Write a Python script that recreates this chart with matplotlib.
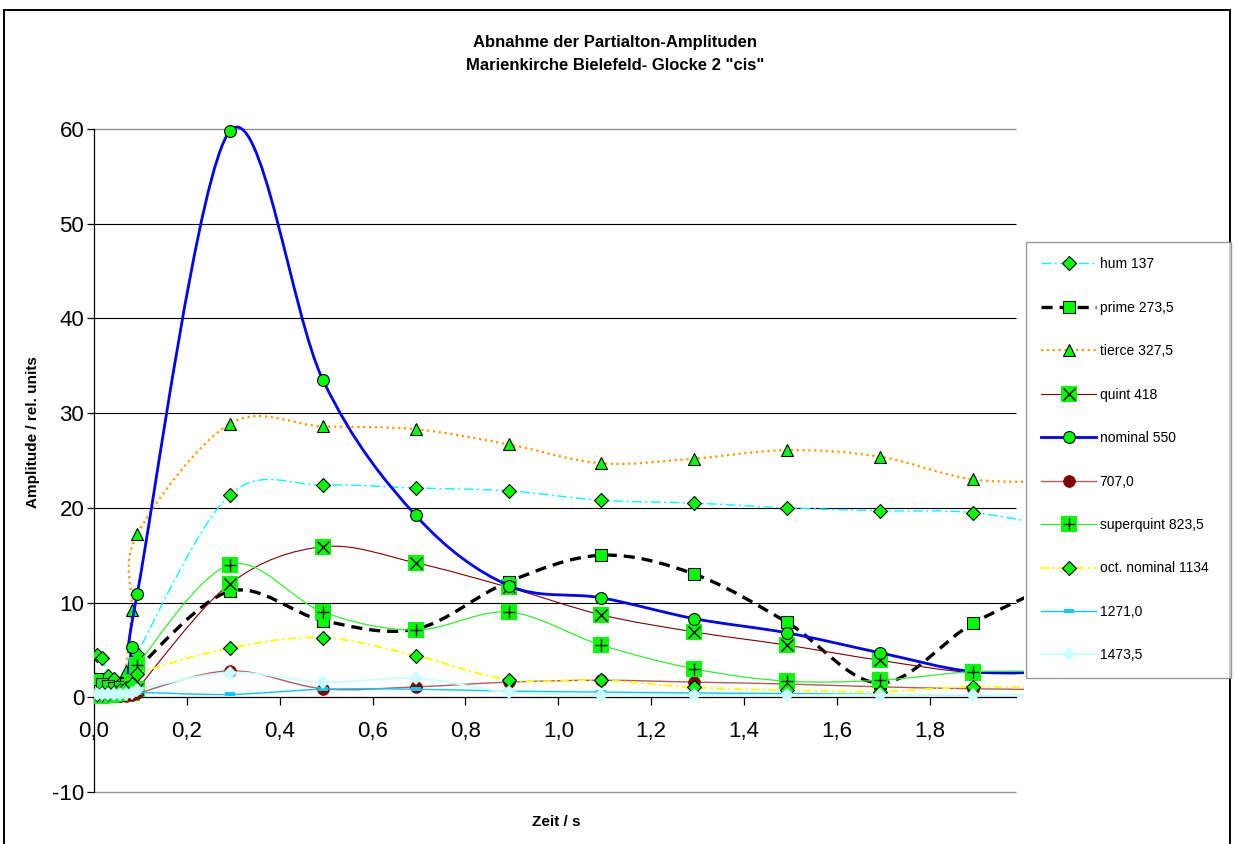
import numpy as np
import matplotlib
matplotlib.use("Agg")
import matplotlib.pyplot as plt
from matplotlib.path import Path
from matplotlib.patches import PathPatch, Rectangle
from matplotlib.lines import Line2D

plt.rcParams["font.family"] = ["Liberation Sans", "DejaVu Sans"]
plt.rcParams["lines.scale_dashes"] = False
plt.rcParams["axes.unicode_minus"] = False

# measurement times in s (last one lies just past the right edge of the plot)
t = [0.006, 0.018, 0.031, 0.043, 0.056, 0.068, 0.081, 0.093,
     0.293, 0.493, 0.693, 0.893, 1.093, 1.293, 1.493, 1.693, 1.893, 2.093]

# partial amplitudes, rel. units
hum = [4.5, 4.1, 2.3, 1.9, 1.4, 1.3, 2.0, 4.6,
       21.4, 22.4, 22.1, 21.8, 20.8, 20.5, 20.0, 19.7, 19.5, 17.8]
prime = [1.9, 1.4, 1.2, 1.0, 1.1, 1.4, 2.0, 3.0,
         11.2, 8.1, 7.2, 12.2, 15.0, 13.0, 7.9, 1.5, 7.8, 12.5]
tierce = [0.4, 0.5, 0.6, 0.8, 1.2, 2.8, 9.2, 17.2,
          28.9, 28.6, 28.3, 26.7, 24.7, 25.2, 26.1, 25.4, 23.0, 22.8]
quint = [0.1, 0.1, 0.2, 0.2, 0.3, 0.4, 0.5, 0.9,
         12.0, 15.9, 14.2, 11.6, 8.7, 6.9, 5.5, 3.9, 2.6, 2.6]
nominal = [0.2, 0.2, 0.3, 0.4, 0.6, 1.2, 5.3, 10.9,
           59.8, 33.5, 19.2, 11.8, 10.5, 8.3, 6.8, 4.7, 2.7, 2.75]
p707 = [0.1, 0.1, 0.1, 0.1, 0.1, 0.1, 0.2, 0.4,
        2.8, 0.9, 1.1, 1.6, 1.8, 1.6, 1.4, 1.1, 0.9, 0.8]
superquint = [0.1, 0.1, 0.2, 0.3, 0.5, 0.8, 1.6, 3.4,
              14.0, 9.0, 7.1, 9.0, 5.5, 3.0, 1.7, 1.8, 2.7, 2.7]
oct_nominal = [0.3, 0.4, 0.5, 0.6, 0.8, 1.0, 1.4, 2.5,
               5.2, 6.3, 4.4, 1.85, 1.8, 1.05, 0.75, 0.6, 1.1, 0.9]
p1271 = [0.0, 0.0, 0.0, 0.0, 0.1, 0.1, 0.2, 0.5,
         0.3, 0.85, 0.85, 0.65, 0.55, 0.45, 0.4, 0.3, 0.2, 0.2]
p1473 = [0.3, 0.3, 0.3, 0.3, 0.3, 0.3, 0.4, 0.8,
         2.6, 1.6, 2.0, 0.55, 0.2, 0.2, 0.25, 0.25, 0.25, 0.2]

names = ["hum 137", "prime 273,5", "tierce 327,5", "quint 418", "nominal 550",
         "707,0", "superquint 823,5", "oct. nominal 1134", "1271,0", "1473,5"]

xticks = [0.0, 0.2, 0.4, 0.6, 0.8, 1.0, 1.2, 1.4, 1.6, 1.8]
xticklabels = ["0,0", "0,2", "0,4", "0,6", "0,8", "1,0", "1,2", "1,4", "1,6", "1,8"]
yticks = [-10, 0, 10, 20, 30, 40, 50, 60]

GREEN = "#00FF00"
bar_marker = [(-1, -0.45), (1, -0.45), (1, 0.45), (-1, 0.45)]

# line + marker style per series; "overlay" is a glyph drawn on top of the marker
styles = [
    dict(color="#00FFFF", lw=1.0, ls=(0, (7, 2.5, 1.5, 2.5)),
         marker="D", ms=7, mfc=GREEN, mec="black", mew=0.8),
    dict(color="black", lw=2.4, ls=(0, (8, 5)),
         marker="s", ms=8.5, mfc=GREEN, mec="black", mew=0.8),
    dict(color="#FF9900", lw=1.6, ls=(0, (1.6, 2.6)),
         marker="^", ms=9, mfc=GREEN, mec="black", mew=0.8),
    dict(color="#800000", lw=0.8, ls="-",
         marker="s", ms=11, mfc=GREEN, mec=GREEN, mew=0, overlay="x"),
    dict(color="#0000FF", lw=2.0, ls="-",
         marker="o", ms=8.5, mfc=GREEN, mec="black", mew=0.8),
    dict(color="#B35C5C", lw=1.0, ls="-",
         marker="o", ms=8.5, mfc="#800000", mec="#800000", mew=0.5),
    dict(color="#33EE33", lw=0.9, ls="-",
         marker="s", ms=11, mfc=GREEN, mec=GREEN, mew=0, overlay="+"),
    dict(color="#FFFF00", lw=1.4, ls=(0, (6, 2.5, 1.5, 2.5)),
         marker="D", ms=7, mfc=GREEN, mec="black", mew=0.8),
    dict(color="#00CCFF", lw=1.0, ls="-",
         marker=bar_marker, ms=7, mfc="#00CCFF", mec="#00CCFF", mew=0),
    dict(color="#CCFFFF", lw=1.4, ls="-",
         marker="D", ms=7.5, mfc="#CCFFFF", mec="#CCFFFF", mew=0),
]
series = [hum, prime, tierce, quint, nominal, p707, superquint, oct_nominal, p1271, p1473]


def excel_smooth(x, y):
    """Bezier path through the points with Catmull-Rom tangents (smoothed line)."""
    pts = np.column_stack([x, y]).astype(float)
    n = len(pts)
    verts = [pts[0]]
    codes = [Path.MOVETO]
    for i in range(n - 1):
        p0 = pts[max(i - 1, 0)]
        p1, p2 = pts[i], pts[i + 1]
        p3 = pts[min(i + 2, n - 1)]
        verts += [p1 + (p2 - p0) / 6.0, p2 - (p3 - p1) / 6.0, p2]
        codes += [Path.CURVE4] * 3
    return Path(verts, codes)


fig = plt.figure(figsize=(12.37, 8.44), dpi=100)
ax = fig.add_axes([94 / 1237, 52 / 844, 930 / 1237, 663 / 844])
x_end = 2.003
grid_end = 1.985

clip = Rectangle((0, -10.5), x_end, 71.5, transform=ax.transData)

for y in yticks:
    if y == 0:
        continue
    edge = y in (yticks[0], yticks[-1])
    ax.hlines(y, 0, grid_end, colors="#909090" if edge else "black",
              lw=1.0 if edge else 0.8, zorder=1, clip_on=False)

handles = []
for k, (vals, st) in enumerate(zip(series, styles)):
    z = 3 + k
    patch = PathPatch(excel_smooth(t, vals), fill=False, edgecolor=st["color"],
                      lw=st["lw"], linestyle=st["ls"], capstyle="butt", zorder=z)
    ax.add_patch(patch)
    patch.set_clip_path(clip)
    mk, = ax.plot(t, vals, linestyle="none", marker=st["marker"], ms=st["ms"],
                  mfc=st["mfc"], mec=st["mec"], mew=st["mew"], zorder=z + 0.5)
    mk.set_clip_path(clip)
    h = Line2D([], [], color=st["color"], lw=st["lw"], linestyle=st["ls"],
               marker=st["marker"], ms=st["ms"], mfc=st["mfc"], mec=st["mec"], mew=st["mew"])
    if "overlay" in st:
        ov, = ax.plot(t, vals, linestyle="none", marker=st["overlay"], ms=st["ms"] * 0.8,
                      color="black", mew=1.0, zorder=z + 0.6)
        ov.set_clip_path(clip)
        h = (h, Line2D([], [], linestyle="none", marker=st["overlay"], ms=st["ms"] * 0.8,
                       color="black", mew=1.0))
    handles.append(h)

ax.set_xlim(0, x_end)
ax.set_ylim(-10, 60)
ax.patch.set_visible(False)

for side in ["top", "right"]:
    ax.spines[side].set_visible(False)
ax.spines["bottom"].set_position(("data", 0))
ax.spines["bottom"].set_bounds(0, grid_end)
ax.spines["bottom"].set_linewidth(0.9)
ax.spines["left"].set_linewidth(0.9)
ax.spines["bottom"].set_zorder(2)

ax.set_xticks(xticks)
ax.set_xticklabels(xticklabels)
ax.set_yticks(yticks)
ax.tick_params(axis="x", direction="out", length=6, width=0.9, labelsize=16, pad=11)
ax.tick_params(axis="y", direction="out", length=5, width=0.9, labelsize=16, pad=2)

fig.text(615 / 1237, 1 - 43 / 844, "Abnahme der Partialton-Amplituden",
         ha="center", va="center", fontsize=12, fontweight="bold")
fig.text(615 / 1237, 1 - 65 / 844, 'Marienkirche Bielefeld- Glocke 2 "cis"',
         ha="center", va="center", fontsize=12, fontweight="bold")
fig.text(556 / 1237, 1 - 822 / 844, "Zeit / s", ha="center", va="center",
         fontsize=11, fontweight="bold")
fig.text(33 / 1237, 1 - 432 / 844, "Amplitude / rel. units", ha="center", va="center",
         rotation=90, fontsize=11, fontweight="bold")

leg = fig.legend(handles, names, loc="upper left",
                 bbox_to_anchor=(1026 / 1237, 1 - 242 / 844, 205 / 1237, 0.0),
                 mode="expand", borderaxespad=0, fontsize=10, labelspacing=2.12,
                 handlelength=3.95, handletextpad=0.25, borderpad=1.1,
                 numpoints=1, fancybox=False, frameon=True)
leg.get_frame().set_edgecolor("#808080")
leg.get_frame().set_linewidth(1.0)

# frame around the whole chart
fig.add_artist(Rectangle((4 / 1237, -0.01), 1226 / 1237, 1 - 10 / 844 + 0.01,
                         transform=fig.transFigure, fill=False, ec="black", lw=1.4))

fig.savefig("out.png", dpi=100)
